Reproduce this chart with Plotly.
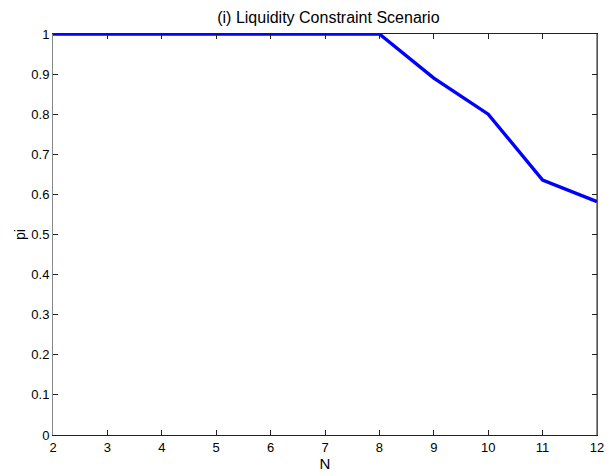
import plotly.graph_objects as go

N = [2, 3, 4, 5, 6, 7, 8, 9, 10, 11, 12]
pi = [1, 1, 1, 1, 1, 1, 1, 0.89, 0.80, 0.636, 0.582]
x_ticks = [2, 3, 4, 5, 6, 7, 8, 9, 10, 11, 12]
y_ticks = [0, 0.1, 0.2, 0.3, 0.4, 0.5, 0.6, 0.7, 0.8, 0.9, 1]
y_labels = ["0", "0.1", "0.2", "0.3", "0.4", "0.5", "0.6", "0.7", "0.8", "0.9", "1"]

fig = go.Figure()
fig.add_trace(go.Scatter(x=N, y=pi, mode="lines",
                         line=dict(color="#0000FF", width=3.4), showlegend=False))

font = "Liberation Sans, Arial, sans-serif"
fig.update_layout(
    width=615, height=476,
    margin=dict(l=53, r=11, t=34, b=40),
    paper_bgcolor="white", plot_bgcolor="white",
    font=dict(family=font, size=13, color="black"),
    title=dict(text="(i) Liquidity Constraint Scenario", x=0.534, xanchor="center",
               y=0.964, yanchor="middle", font=dict(size=16, family=font)),
)
fig.update_xaxes(range=[2, 12], tickvals=x_ticks, ticks="inside", ticklen=5,
                 tickcolor="#222", linecolor="#222", linewidth=1, mirror="ticks",
                 showgrid=False, zeroline=False,
                 title=dict(text="N", standoff=0, font=dict(size=15)))
fig.update_yaxes(range=[0, 1], tickvals=y_ticks, ticktext=y_labels, ticks="inside",
                 ticklen=5, tickcolor="#222", linecolor="#888", linewidth=1,
                 mirror="ticks", showgrid=False, zeroline=False,
                 title=dict(text="pi", standoff=2, font=dict(size=14)))
fig.add_shape(type="line", xref="paper", yref="paper", x0=1, x1=1, y0=0, y1=1,
              line=dict(color="#222", width=1))
fig.write_html("out.html")
